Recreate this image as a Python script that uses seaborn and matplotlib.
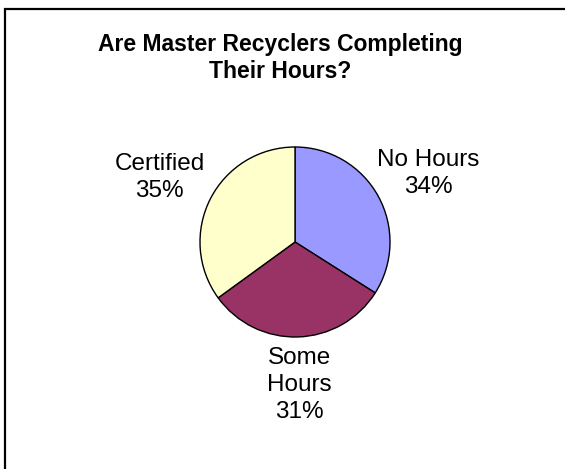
import textwrap
import matplotlib
matplotlib.use("Agg")
import matplotlib.pyplot as plt
import seaborn as sns
from matplotlib.patches import Rectangle

# Chart data
categories = ["No Hours", "Some Hours", "Certified"]
percents = [34, 31, 35]
colors = ["#9999FF", "#993366", "#FFFFCC"]
title = "Are Master Recyclers Completing\nTheir Hours?"

sns.set_theme(style="white")
plt.rcParams["font.family"] = ["Liberation Sans", "DejaVu Sans"]

W, H = 565, 469
fig = plt.figure(figsize=(W / 100, H / 100), dpi=100)

# pie axes: centre ~ (295, 242) px, radius ~95 px
cx, cy, r = 295, 242, 95
ax = fig.add_axes([(cx - r) / W, 1 - (cy + r) / H, 2 * r / W, 2 * r / H])

labels = [textwrap.fill(c, 9) + f"\n{p}%" for c, p in zip(categories, percents)]
wedges, texts = ax.pie(
    percents,
    labels=labels,
    colors=colors,
    startangle=90,
    counterclock=False,
    labeldistance=1.6,
    wedgeprops=dict(edgecolor="black", linewidth=1),
    textprops=dict(fontsize=17.5, color="black", linespacing=1.3),
)
for t in texts:
    t.set_ha("center")
    t.set_va("center")
    # labels sit a little closer vertically than horizontally
    t.set_y(t.get_position()[1] * 0.94)
ax.set_xlim(-1, 1)
ax.set_ylim(-1, 1)
ax.set_aspect("equal")
ax.axis("off")

fig.text(280 / W, 1 - 58 / H, title, ha="center", va="center", color="black",
         fontsize=16.5, fontweight="bold", linespacing=1.25)

# frame around the chart area (clipped on right / bottom like the original)
fig.patches.append(Rectangle((5 / W, -0.1), 1.2, 1 - 9 / H + 0.1, transform=fig.transFigure,
                             fill=False, edgecolor="black", linewidth=1.6))

fig.savefig("out.png", dpi=100, facecolor="white")
